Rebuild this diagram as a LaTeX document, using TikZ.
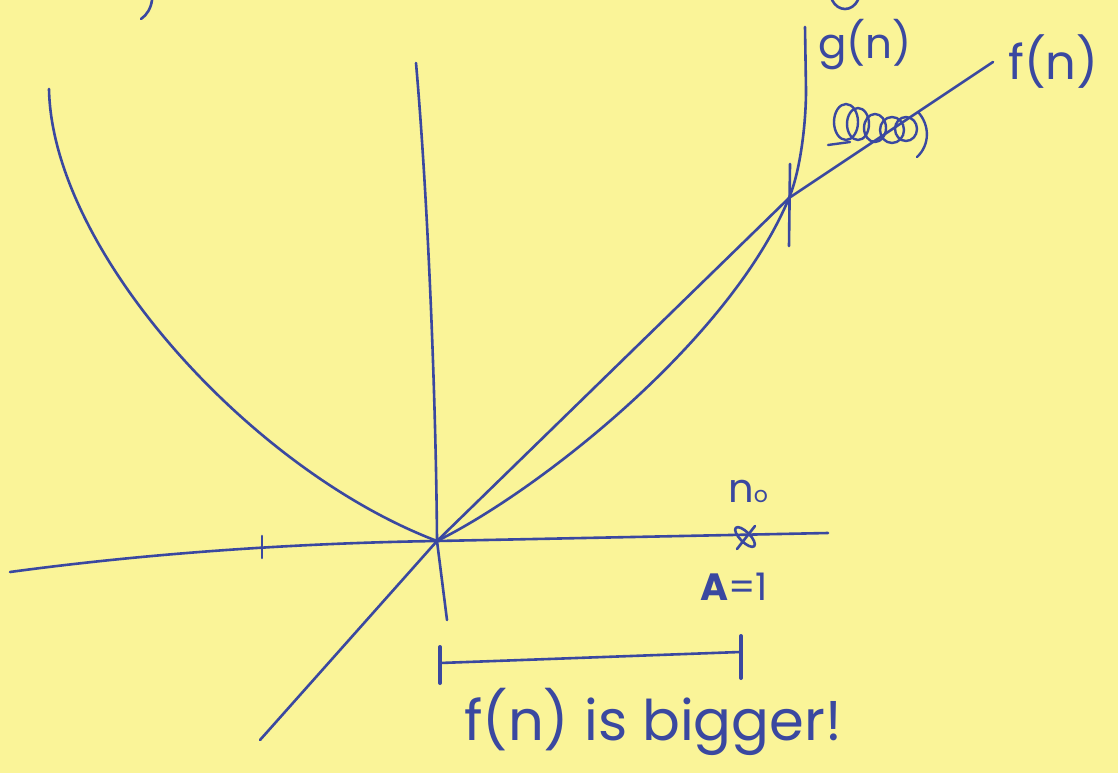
\documentclass[tikz,border=0pt]{standalone}
\usepackage{fontspec}
\setmainfont{Poppins}
\definecolor{paper}{RGB}{250,244,152}
\definecolor{ink}{RGB}{58,72,160}
\begin{document}
\begin{tikzpicture}[x=1pt,y=-1pt,
  pen/.style={draw=ink,line width=2.6pt,line cap=round,line join=round},
  thickpen/.style={draw=ink,line width=4pt,line cap=round},
  hand/.style={text=ink,inner sep=0pt,font=\fontsize{34}{40}\selectfont}]
\fill[paper] (0,0) rectangle (1118,773);
\useasboundingbox (0,0) rectangle (1118,773);
% key points
\coordinate (O) at (437,541);
\coordinate (yTop) at (416,63);
\coordinate (yBot) at (447,620);
\coordinate (xL) at (10,572);
\coordinate (xR) at (828,533);
\coordinate (fLow) at (260,740);
\coordinate (X) at (789,198);
\coordinate (fEnd) at (993,62);
\coordinate (gL) at (49,89);
\coordinate (gTop) at (805,27);
\coordinate (n0) at (745,537);
% axes
\draw[pen] (yTop) .. controls (428,200) and (436,400) .. (O) -- (yBot);
\draw[pen] (xL) .. controls (150,553) and (300,543) .. (O) -- (xR);
\draw[pen] (262,536) -- (262,558);
% g(n)
\draw[pen] (gL) .. controls (52,250) and (250,470) .. (O);
\draw[pen] (O) .. controls (540,490) and (730,340) .. (X)
  .. controls (800,172) and (806,125) .. (806,90) -- (gTop);
% f(n)
\draw[pen] (fLow) -- (O) -- (X) -- (fEnd);
% crossing tick
\draw[pen] (790,164) -- (789,246);
% n0 mark
\draw[pen] (n0) ellipse[x radius=13pt,y radius=5pt,rotate=-45];
\draw[pen] (737,549) -- (755,526);
% bracket
\draw[thickpen] (440,647) -- (440,683);
\draw[pen] (440,663) -- (740,652);
\draw[thickpen] (741,636) -- (741,678);
% crossed-out scribble
\draw[pen,line width=2.4pt] (846,122) ellipse[x radius=12pt,y radius=18pt];
\draw[pen,line width=2.4pt] (858,124) ellipse[x radius=11pt,y radius=16pt];
\draw[pen,line width=2.4pt] (875,128) ellipse[x radius=11pt,y radius=14pt];
\draw[pen,line width=2.4pt] (892,130) ellipse[x radius=12pt,y radius=13pt];
\draw[pen,line width=2.4pt] (906,129) ellipse[x radius=11pt,y radius=12pt];
\draw[pen,line width=2.4pt] (918,112) .. controls (930,125) and (930,145) .. (917,157);
\draw[pen,line width=2.4pt] (828,145) -- (850,142);
% cut-off strokes at top edge
\draw[pen] (152,0) .. controls (151,8) and (147,15) .. (141,19);
\draw[pen] (832,0) .. controls (838,12) and (852,12) .. (858,0);
% labels
\node[hand,anchor=west,font=\fontsize{42}{48}\selectfont] (glab) at (818,45) {g(n)};
\node[hand,anchor=west,font=\fontsize{48}{56}\selectfont] (flab) at (1008,62) {f(n)};
\node[hand,anchor=base west,font=\fontsize{40}{46}\selectfont] (n0lab) at (728,502) {n{\fontsize{22}{24}\selectfont o}};
\node[hand,anchor=base west,font=\fontsize{38}{44}\selectfont] (A1) at (700,600) {\textbf{A}=1};
\node[hand,font=\fontsize{56}{64}\selectfont,anchor=base west] (cap) at (464,740) {f(n) is bigger!};
\end{tikzpicture}
\end{document}
